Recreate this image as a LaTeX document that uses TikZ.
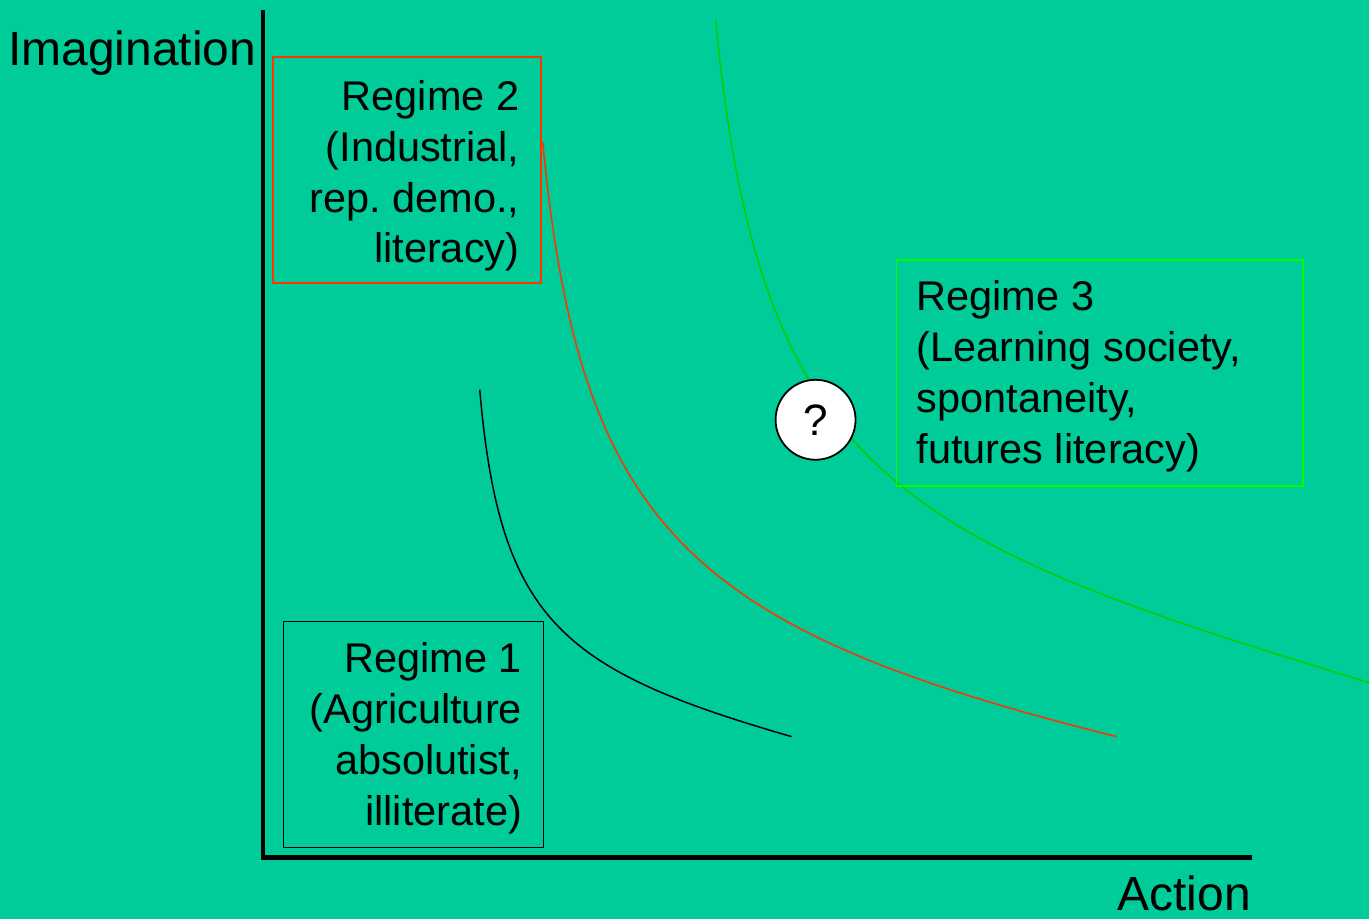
\documentclass[tikz,border=0pt]{standalone}
\usepackage{fontspec}
\setmainfont{Liberation Sans}
\frenchspacing
\definecolor{bgteal}{HTML}{00CC99}
\definecolor{regred}{HTML}{FF3300}
\definecolor{reggreen}{HTML}{00CC00}
\definecolor{boxgreen}{HTML}{00FF00}
\tikzset{
    regimebox/.style={draw, line width=1.8pt, inner sep=0pt, minimum height=226pt},
    boxtext/.style={inner sep=0pt, font=\fontsize{41.5}{51}\selectfont},
    axislabel/.style={inner sep=0pt, font=\fontsize{48}{56}\selectfont},
}
\begin{document}
\begin{tikzpicture}[x=1pt, y=-1pt]
    % Background and page size
    \fill[bgteal] (0,0) rectangle (1370,919);

    % Axes
    \coordinate (top) at (263,10);
    \coordinate (origin) at (263,858);
    \coordinate (right) at (1253,858);
    \draw[line width=4.5pt] (top) -- (origin) -- (right);
    \node[axislabel, anchor=base west] (imag) at (8,66) {Imagination};
    \node[axislabel, anchor=base west] (action) at (1118,911) {Action};

    % Curves (one per regime)
    \draw[line width=1.5pt] (480,390) .. controls (500,620) and (560,670) .. (792,737);
    \draw[regred, line width=1.5pt] (543,142) .. controls (580,530) and (690,630) .. (1117,737);
    \draw[reggreen, line width=1.5pt] (716,20) .. controls (760,480) and (900,540) .. (1370,683);

    % Regime boxes
    \node[regimebox, regred, minimum width=268pt, anchor=north west] (regimetwo) at (272,56) {};
    \node[boxtext, align=right, anchor=east] (regimetwotext) at ([xshift=-22pt, yshift=-6pt]regimetwo.east)
          {Regime 2\\(Industrial,\\rep. demo.,\\literacy)};
    \node[regimebox, line width=1.4pt, minimum width=260pt, anchor=north west] (regimeone) at (283,621) {};
    \node[boxtext, align=right, anchor=east] (regimeonetext) at ([xshift=-22pt, yshift=-4pt]regimeone.east)
          {Regime 1\\(Agriculture\\absolutist,\\illiterate)};
    \node[regimebox, boxgreen, minimum width=407pt, anchor=north west] (regimethree) at (896,259) {};
    \node[boxtext, align=left, anchor=west] (regimethreetext) at ([xshift=21pt, yshift=-4pt]regimethree.west)
          {Regime 3\\(Learning society,\\spontaneity,\\futures literacy)};

    % The open question on the green curve
    \node[circle, draw, fill=white, line width=1.8pt, minimum size=80pt, inner sep=0pt,
          font=\fontsize{44}{50}\selectfont] (query) at (816,420) {?};
\end{tikzpicture}
\end{document}
